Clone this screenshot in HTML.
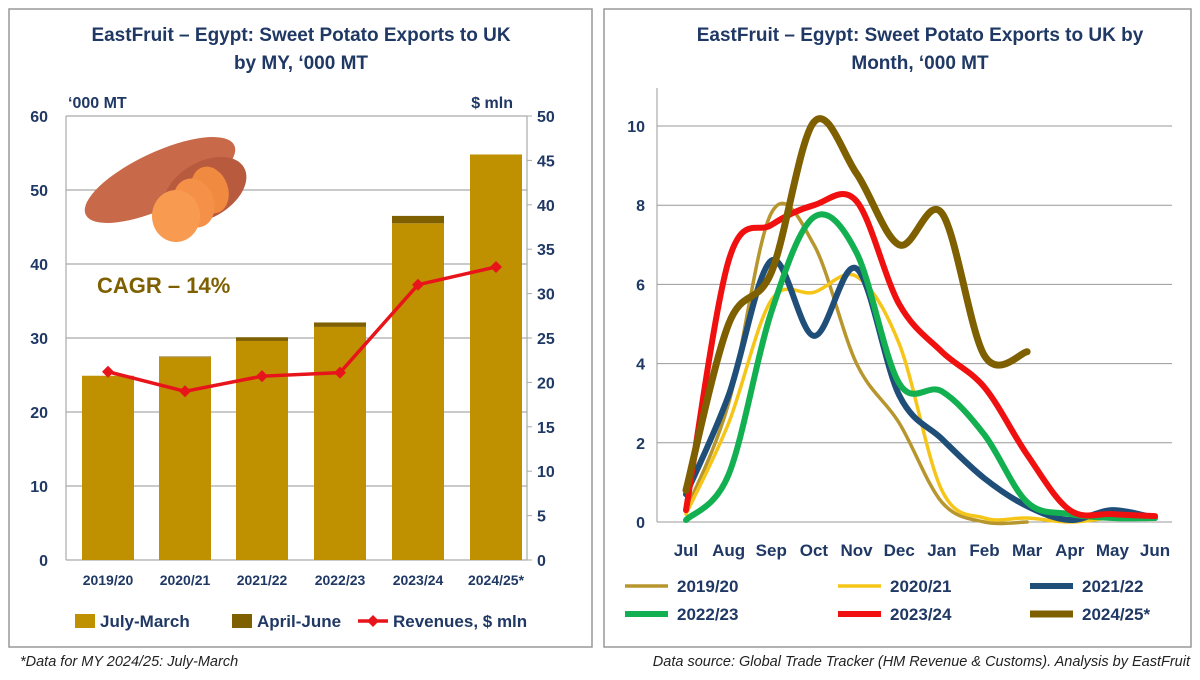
<!DOCTYPE html><html><head><meta charset="utf-8"><style>
body{margin:0;background:#fff;width:1200px;height:675px;overflow:hidden;font-family:"Liberation Sans",sans-serif}
svg text{font-family:"Liberation Sans",sans-serif}
</style></head><body>
<svg id="s" width="1200" height="675" viewBox="0 0 1200 675">
<rect x="9" y="9" width="583" height="638" fill="#fff" stroke="#999" stroke-width="1.5"/>
<rect x="604" y="9" width="587" height="638" fill="#fff" stroke="#999" stroke-width="1.5"/>
<g font-weight="bold" fill="#1f3864" font-size="19" text-anchor="middle">
<text x="301" y="41">EastFruit – Egypt: Sweet Potato Exports to UK</text>
<text x="301" y="69">by MY, ‘000 MT</text>
<text x="920" y="41">EastFruit – Egypt: Sweet Potato Exports to UK by</text>
<text x="920" y="69">Month, ‘000 MT</text>
</g>
<g id="left"></g><g id="right"></g>
<g font-style="italic" font-size="14.5" fill="#222">
<text x="20" y="666">*Data for MY 2024/25: July-March</text>
<text x="1190" y="666" text-anchor="end">Data source: Global Trade Tracker (HM Revenue &amp; Customs). Analysis by EastFruit</text>
</g>
</svg>
<script>
var NS="http://www.w3.org/2000/svg";
function el(p,t,a,txt){var e=document.createElementNS(NS,t);for(var k in a)e.setAttribute(k,a[k]);if(txt!=null)e.textContent=txt;p.appendChild(e);return e;}
var L=document.getElementById('left'),R=document.getElementById('right');
var x0=66,x1=527,yb=560,yt=116;
function yl(v){return yb-(yb-yt)*v/60}
function yr(v){return yb-(yb-yt)*v/50}
for(var v=0;v<=60;v+=10){el(L,'line',{x1:x0,x2:x1,y1:yl(v),y2:yl(v),stroke:'#aaa','stroke-width':1.2});el(L,'text',{x:48,y:yl(v)+6,'text-anchor':'end','font-size':16,'font-weight':'bold',fill:'#1f3864'},v);}
el(L,'line',{x1:x0,x2:x0,y1:yt,y2:yb,stroke:'#aaa','stroke-width':1.2});
el(L,'line',{x1:x1,x2:x1,y1:yt,y2:yb,stroke:'#aaa','stroke-width':1.2});
for(var v=0;v<=50;v+=5){el(L,'line',{x1:x1,x2:x1+5,y1:yr(v),y2:yr(v),stroke:'#aaa'});el(L,'text',{x:537,y:yr(v)+6,'font-size':16,'font-weight':'bold',fill:'#1f3864'},v);}
el(L,'text',{x:68,y:108,'font-size':16,'font-weight':'bold',fill:'#1f3864'},'‘000 MT');
el(L,'text',{x:513,y:108,'font-size':16,'font-weight':'bold',fill:'#1f3864','text-anchor':'end'},'$ mln');
var cx=[108,185,262,340,418,496],a=[24.9,27.4,29.6,31.5,45.5,54.8],b=[0,0.1,0.5,0.6,1.0,0],rev=[21.2,19,20.7,21.1,31,33],lab=['2019/20','2020/21','2021/22','2022/23','2023/24','2024/25*'];
for(var i=0;i<6;i++){el(L,'rect',{x:cx[i]-26,y:yl(a[i]),width:52,height:yb-yl(a[i]),fill:'#bf9000'});if(b[i])el(L,'rect',{x:cx[i]-26,y:yl(a[i]+b[i]),width:52,height:yl(a[i])-yl(a[i]+b[i]),fill:'#7f6000'});
el(L,'text',{x:cx[i],y:585,'text-anchor':'middle','font-size':14,'font-weight':'bold',fill:'#1f3864'},lab[i]);}
var pts=cx.map(function(x,i){return x+','+yr(rev[i])}).join(' ');
el(L,'polyline',{points:pts,fill:'none',stroke:'#e8141b','stroke-width':3.5});
cx.forEach(function(x,i){var y=yr(rev[i]);el(L,'polygon',{points:(x-6)+','+y+' '+x+','+(y-6)+' '+(x+6)+','+y+' '+x+','+(y+6),fill:'#e8141b'});});
el(L,'ellipse',{cx:160,cy:180,rx:82,ry:28,fill:'#c8694a',transform:'rotate(-25 160 180)'});
el(L,'ellipse',{cx:205,cy:190,rx:45,ry:28,fill:'#b85a3e',transform:'rotate(-30 205 190)'});
el(L,'ellipse',{cx:210,cy:190,rx:18,ry:24,fill:'#f08a40',transform:'rotate(-20 210 190)'});
el(L,'ellipse',{cx:194,cy:203,rx:20,ry:25,fill:'#f59048',transform:'rotate(-20 194 203)'});
el(L,'ellipse',{cx:176,cy:216,rx:24,ry:26,fill:'#f89a50'});
el(L,'text',{x:97,y:293,'font-size':22,'font-weight':'bold',fill:'#7f6000'},'CAGR – 14%');
el(L,'rect',{x:75,y:614,width:20,height:14,fill:'#bf9000'});el(L,'text',{x:100,y:627,'font-size':17,'font-weight':'bold',fill:'#1f3864'},'July-March');
el(L,'rect',{x:232,y:614,width:20,height:14,fill:'#7f6000'});el(L,'text',{x:257,y:627,'font-size':17,'font-weight':'bold',fill:'#1f3864'},'April-June');
el(L,'line',{x1:358,x2:388,y1:621,y2:621,stroke:'#e8141b','stroke-width':3.5});el(L,'polygon',{points:'367,621 373,615 379,621 373,627',fill:'#e8141b'});
el(L,'text',{x:393,y:627,'font-size':17,'font-weight':'bold',fill:'#1f3864'},'Revenues, $ mln');
var rx0=657,rx1=1172,ry0=522,k=39.6;
function yy(v){return ry0-k*v}
for(var v=0;v<=10;v+=2){el(R,'line',{x1:rx0,x2:rx1,y1:yy(v),y2:yy(v),stroke:'#999','stroke-width':1});el(R,'text',{x:645,y:yy(v)+6,'text-anchor':'end','font-size':16,'font-weight':'bold',fill:'#1f3864'},v);}
el(R,'line',{x1:rx0,x2:rx0,y1:88,y2:ry0,stroke:'#999'});
var mon=['Jul','Aug','Sep','Oct','Nov','Dec','Jan','Feb','Mar','Apr','May','Jun'];
function mx(i){return 686+i*42.64}
mon.forEach(function(m,i){el(R,'text',{x:mx(i),y:556,'text-anchor':'middle','font-size':17,'font-weight':'bold',fill:'#1f3864'},m);});
var S=[
['2019/20','#b8962e',3.5,[0.3,3,7.8,7,4,2.5,0.5,0,0]],
['2020/21','#f5c518',3.5,[0.2,2.5,5.6,5.8,6.2,4.5,0.8,0.1,0.1,0,0.1,0.1]],
['2021/22','#1f4e79',6,[0.7,3.2,6.6,4.7,6.4,3.2,2.1,1.1,0.4,0.05,0.3,0.1]],
['2022/23','#12b050',6,[0.05,1.2,5.3,7.7,6.8,3.5,3.3,2.2,0.5,0.2,0.1,0.1]],
['2023/24','#f01010',6,[0.3,6.6,7.5,8.0,8.1,5.5,4.3,3.4,1.7,0.3,0.2,0.15]],
['2024/25*','#7f6000',7,[0.8,5.0,6.3,10.1,8.8,7.0,7.8,4.2,4.3]]];
function path(d){var p=d.map(function(v,i){return [mx(i),yy(v)]});var s='M'+p[0][0]+','+p[0][1];
for(var i=0;i<p.length-1;i++){var p0=p[i-1]||p[i],p1=p[i],p2=p[i+1],p3=p[i+2]||p2;
s+=' C'+(p1[0]+(p2[0]-p0[0])/6)+','+(p1[1]+(p2[1]-p0[1])/6)+' '+(p2[0]-(p3[0]-p1[0])/6)+','+(p2[1]-(p3[1]-p1[1])/6)+' '+p2[0]+','+p2[1];}return s;}
S.forEach(function(s){el(R,'path',{d:path(s[3]),fill:'none',stroke:s[1],'stroke-width':s[2],'stroke-linecap':'round','stroke-linejoin':'round'});});
var lx=[[625,677],[838,890],[1030,1082]];
S.forEach(function(s,i){var r=Math.floor(i/3),c=i%3,y=586+r*28;el(R,'line',{x1:lx[c][0],x2:lx[c][0]+43,y1:y,y2:y,stroke:s[1],'stroke-width':s[2]});el(R,'text',{x:lx[c][1],y:y+6,'font-size':17,'font-weight':'bold',fill:'#1f3864'},s[0]);});
</script>
</body></html>
